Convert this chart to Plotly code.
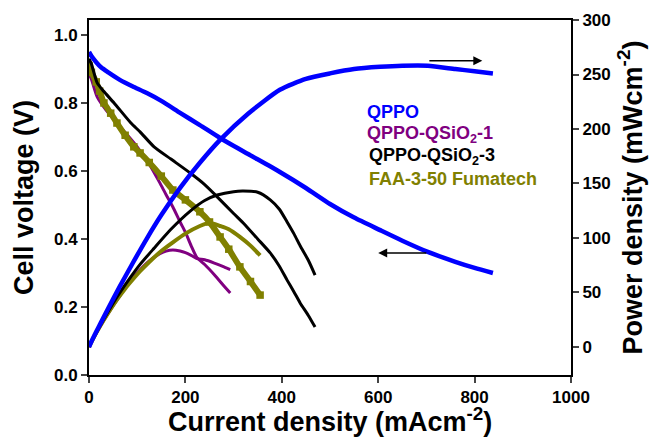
import plotly.graph_objects as go

# ---- data ----
# QPPO
qppo_j = [0, 5, 15, 25, 40, 64, 90, 120, 150, 189, 230, 272, 330, 396, 450, 500, 550, 604, 650, 703, 760, 800, 838]
qppo_v = [0.950, 0.938, 0.920, 0.905, 0.890, 0.868, 0.849, 0.829, 0.806, 0.771, 0.735, 0.697, 0.650, 0.597, 0.550, 0.503, 0.463, 0.426, 0.395, 0.362, 0.333, 0.315, 0.300]
qppo_p = [0, 5, 14, 22.6, 35.6, 55.6, 76.4, 99.5, 121, 146, 169, 190, 214, 236, 246, 251, 255, 257, 258, 258, 255, 253, 251]

# QPPO-QSiO2-1
s1_j = [0, 5, 17, 35, 58, 80, 100, 125, 147, 160, 174, 189, 200, 212, 224, 240, 260, 280, 293]
s1_v = [0.885, 0.870, 0.818, 0.780, 0.741, 0.705, 0.671, 0.620, 0.565, 0.530, 0.494, 0.450, 0.420, 0.380, 0.345, 0.325, 0.295, 0.262, 0.241]
s1_p = [0, 4.4, 14, 27.5, 43, 57, 68, 79, 85.5, 88, 89, 88, 86.5, 84, 81, 80, 77, 73.5, 71]

# QPPO-QSiO2-3
s3_j = [0, 5, 17, 30, 52, 87, 106, 135, 170, 210, 240, 266, 300, 320, 350, 376, 395, 411, 425, 438, 455, 469]
s3_v = [0.930, 0.915, 0.859, 0.835, 0.800, 0.741, 0.715, 0.671, 0.635, 0.594, 0.560, 0.524, 0.475, 0.447, 0.400, 0.359, 0.320, 0.279, 0.245, 0.212, 0.175, 0.141]
s3_p = [0, 4.6, 14.6, 25, 41.6, 64.5, 75.8, 90.6, 108, 124.7, 134.4, 139.4, 142.5, 143, 142, 135, 126.4, 114.7, 104, 92.9, 79.6, 66]

# FAA-3-50 Fumatech
faa_j = [0, 5, 15, 22, 31, 45, 58, 75, 93, 106, 125, 150, 174, 200, 230, 250, 272, 290, 313, 335, 355]
faa_v = [0.910, 0.890, 0.862, 0.835, 0.800, 0.770, 0.741, 0.705, 0.671, 0.653, 0.625, 0.585, 0.544, 0.515, 0.480, 0.450, 0.406, 0.370, 0.318, 0.275, 0.235]
faa_p = [0, 4.5, 13, 18.4, 25, 35, 43.5, 53.5, 63, 69.5, 78, 88, 96, 104, 111, 114, 111, 108, 101, 93, 84]

x_ticks = [0, 200, 400, 600, 800, 1000]
v_ticks = [0.0, 0.2, 0.4, 0.6, 0.8, 1.0]
p_ticks = [0, 50, 100, 150, 200, 250, 300]

BLUE = "#0000FF"
PURPLE = "#800080"
BLACK = "#000000"
OLIVE = "#808000"
FONT = "Liberation Sans"

fig = go.Figure()

def add(x, y, color, lw, ms, axis, name):
    fig.add_trace(go.Scatter(
        x=x, y=y, mode="lines+markers" if ms else "lines", name=name, showlegend=False,
        yaxis=axis,
        line=dict(color=color, width=lw, shape="spline", smoothing=0.6),
        marker=dict(symbol="square", size=ms or 1, color=color),
    ))

add(s1_j, s1_v, PURPLE, 3, 0, "y", "QPPO-QSiO2-1 V")
add(s1_j, s1_p, PURPLE, 3, 0, "y2", "QPPO-QSiO2-1 P")
add(faa_j, faa_v, OLIVE, 6, 7.5, "y", "FAA V")
add(faa_j, faa_p, OLIVE, 4, 0, "y2", "FAA P")
add(s3_j, s3_v, BLACK, 3, 0, "y", "QPPO-QSiO2-3 V")
add(s3_j, s3_p, BLACK, 3, 0, "y2", "QPPO-QSiO2-3 P")
add(qppo_j, qppo_v, BLUE, 4.5, 0, "y", "QPPO V")
add(qppo_j, qppo_p, BLUE, 4.5, 0, "y2", "QPPO P")

tickfont = dict(family=FONT, size=17, color="black", weight="bold")
titlefont = dict(family=FONT, size=27, color="black", weight="bold")

fig.update_layout(
    width=652, height=438,
    margin=dict(l=89, r=81, t=20, b=63, autoexpand=False),
    paper_bgcolor="white", plot_bgcolor="white",
    font=dict(family=FONT, color="black"),
    xaxis=dict(
        range=[0, 1000], tickvals=x_ticks, ticks="outside", ticklen=6, tickwidth=2,
        showline=True, linewidth=2, linecolor="black", mirror=True, automargin=False,
        showgrid=False, zeroline=False, tickfont=tickfont,
    ),
    yaxis=dict(
        range=[0, 1.044], tickvals=v_ticks, tickformat=".1f", ticks="outside", ticklen=6, tickwidth=2,
        showline=True, linewidth=2, linecolor="black", automargin=False,
        showgrid=False, zeroline=False, tickfont=tickfont,
        title=dict(text="Cell voltage (V)", font=titlefont, standoff=13),
    ),
    yaxis2=dict(
        range=[-25.7, 300], tickvals=p_ticks, overlaying="y", side="right",
        ticks="outside", ticklen=6, tickwidth=2, automargin=False,
        showline=True, linewidth=2, linecolor="black",
        showgrid=False, zeroline=False, tickfont=tickfont,
        title=dict(text="Power density (mWcm<sup>-2</sup>)", font=titlefont, standoff=13),
    ),
)

# x-axis title as an annotation so it sits just below the tick labels
fig.add_annotation(
    text="Current density (mAcm<sup>-2</sup>)", x=0.5, y=0, xref="paper", yref="paper",
    xanchor="center", yanchor="top", yshift=-26, showarrow=False,
    font=titlefont,
)

legend_items = [
    ("QPPO", BLUE, 0.740, 0.5726),
    ("QPPO-QSiO<sub>2</sub>-1", PURPLE, 0.678, 0.5726),
    ("QPPO-QSiO<sub>2</sub>-3", BLACK, 0.616, 0.577),
    ("FAA-3-50 Fumatech", OLIVE, 0.553, 0.577),
]
for text, color, yy, xx in legend_items:
    fig.add_annotation(
        text=text, x=xx, y=yy, xref="paper", yref="paper",
        xanchor="left", yanchor="middle", showarrow=False,
        font=dict(family=FONT, size=18, color=color, weight="bold"),
    )

# arrows pointing to the relevant axes
fig.add_annotation(x=816, y=0.924, ax=703, ay=0.924, xref="x", yref="y", axref="x", ayref="y",
                   text="", showarrow=True, arrowhead=2, arrowsize=1.2, arrowwidth=1.5, arrowcolor="black")
fig.add_annotation(x=600, y=0.359, ax=703, ay=0.359, xref="x", yref="y", axref="x", ayref="y",
                   text="", showarrow=True, arrowhead=2, arrowsize=1.2, arrowwidth=1.5, arrowcolor="black")

fig.write_html("out.html")
